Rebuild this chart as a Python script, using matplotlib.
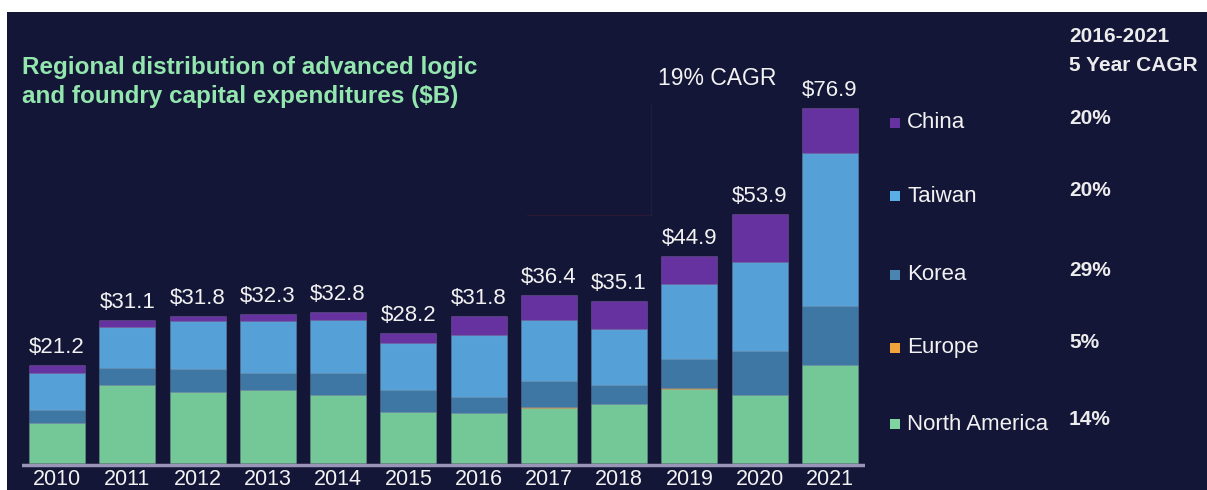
import matplotlib
matplotlib.use("Agg")
import matplotlib.pyplot as plt
from matplotlib.patches import Rectangle

plt.rcParams['font.family'] = ['Liberation Sans', 'DejaVu Sans']

# data ($B)
years = ['2010', '2011', '2012', '2013', '2014', '2015',
         '2016', '2017', '2018', '2019', '2020', '2021']
totals = [21.2, 31.1, 31.8, 32.3, 32.8, 28.2, 31.8, 36.4, 35.1, 44.9, 53.9, 76.9]
north_america = [8.7, 16.9, 15.3, 15.8, 14.7, 11.0, 10.8, 12.0, 12.8, 16.1, 14.7, 21.2]
europe = [0.05, 0.05, 0.05, 0.05, 0.05, 0.05, 0.05, 0.05, 0.05, 0.05, 0.05, 0.05]
korea = [2.7, 3.6, 5.0, 3.7, 4.8, 4.8, 3.5, 5.8, 4.0, 6.3, 9.6, 12.8]
taiwan = [8.1, 9.0, 10.3, 11.3, 11.4, 10.2, 13.3, 13.2, 12.1, 16.4, 19.2, 33.1]
china = [1.6, 1.5, 1.1, 1.4, 1.8, 2.1, 4.1, 5.3, 6.1, 6.0, 10.3, 9.7]

legend_names = ['China', 'Taiwan', 'Korea', 'Europe', 'North America']
cagr_values = ['20%', '20%', '29%', '5%', '14%']

bg = '#131637'
col_na = '#74c897'
col_eu = '#f2a43a'
col_ko = '#3e76a4'
col_tw = '#55a1d7'
col_cn = '#6632a0'

W, H = 1207, 490
ppu = 4.617  # pixels per $B


def fx(x):
    return x / W


def fy(y):
    return 1 - y / H


fig = plt.figure(figsize=(W / 100, H / 100), dpi=100, facecolor='white')
fig.patches.append(Rectangle((fx(7), 0), 1 - fx(7), fy(12), transform=fig.transFigure,
                             facecolor=bg, edgecolor='none', zorder=-5))

ax = fig.add_axes([fx(22), 0, fx(865 - 22), fy(12)])
ax.set_zorder(2)
ax.set_facecolor('none')
ax.axis('off')
ax.set_xlim(-0.5, 11.5)
ax.set_ylim(-27 / ppu, 451 / ppu)

x = list(range(len(years)))
bottom = [0.0] * len(years)
for vals, c in [(north_america, col_na), (europe, col_eu), (korea, col_ko),
                (taiwan, col_tw), (china, col_cn)]:
    ax.bar(x, vals, width=0.8, bottom=bottom, color=c,
           edgecolor=(1, 1, 1, 0.12), linewidth=0.8, zorder=3)
    bottom = [b + v for b, v in zip(bottom, vals)]

ax.axhline(-0.35, color='#9a94b8', linewidth=2.5, zorder=2)

for i in x:
    ax.text(i, bottom[i] + 2.6, f'${totals[i]:.1f}', ha='center', va='baseline',
            color='#f2f2f2', fontsize=16, zorder=5)
    ax.text(i, -22 / ppu, years[i], ha='center', va='baseline', color='#f2f2f2',
            fontsize=15.5, zorder=5)

# faint CAGR bracket
ax.plot([6.69, 8.46], [53.7, 53.7], color='#2a1a33', linewidth=1.0, zorder=1)
ax.plot([8.46, 8.46], [53.7, 78.0], color='#1e1d3f', linewidth=1.0, zorder=1)
ax.text(9.39, (463 - 85) / ppu, '19% CAGR', ha='center', va='baseline',
        color='#f2f2f2', fontsize=16.5, zorder=5)

# title
title_col = '#93e6ad'
fig.text(fx(22), fy(74), 'Regional distribution of advanced logic', color=title_col,
         fontsize=17.5, fontweight='bold', va='baseline')
fig.text(fx(22), fy(103), 'and foundry capital expenditures ($B)', color=title_col,
         fontsize=17.5, fontweight='bold', va='baseline')

# legend with CAGR column
fig.text(fx(1069), fy(42), '2016-2021', color='#ececec', fontsize=15,
         fontweight='bold', va='baseline')
fig.text(fx(1069), fy(71), '5 Year CAGR', color='#ececec', fontsize=15,
         fontweight='bold', va='baseline')

legend_cols = [col_cn, '#5aaee6', '#4a85b2', col_eu, '#80d4a2']
legend_y = [123, 196, 275, 348, 424]
for name, c, val, yc in zip(legend_names, legend_cols, cagr_values, legend_y):
    fig.patches.append(Rectangle((fx(890), fy(yc + 5)), fx(10), 10 / H,
                                 transform=fig.transFigure, facecolor=c,
                                 edgecolor='none', zorder=3))
    fig.text(fx(907), fy(yc), name, color='#f2f2f2', fontsize=16, va='center')
    fig.text(fx(1069), fy(yc - 5), val, color='#ececec', fontsize=15,
             fontweight='bold', va='center')

fig.savefig('out.png', dpi=100, facecolor=fig.get_facecolor())
